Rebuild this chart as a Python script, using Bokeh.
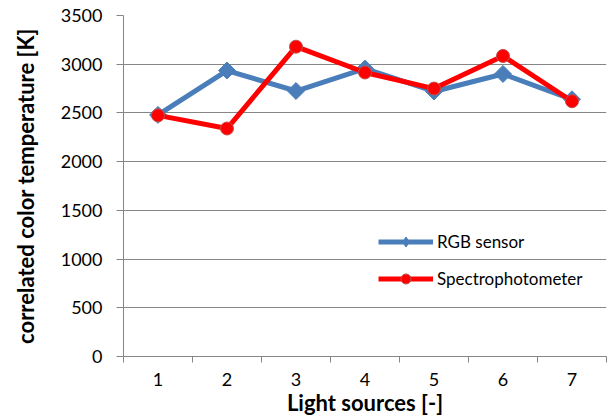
import numpy as np
from bokeh.plotting import figure
from bokeh.models import FixedTicker, Range1d, Legend, LegendItem
from bokeh.embed import file_html
from bokeh.resources import INLINE

sources = [1, 2, 3, 4, 5, 6, 7]
rgb_sensor = [2480, 2935, 2725, 2955, 2720, 2900, 2640]
spectrophotometer = [2475, 2340, 3180, 2915, 2750, 3085, 2620]
y_ticks = [0, 500, 1000, 1500, 2000, 2500, 3000, 3500]

FONT = "Lato"
GRID = "#868686"

p = figure(width=614, height=418, output_backend="svg", toolbar_location=None,
           x_range=Range1d(0.5, 7.5), y_range=Range1d(0, 3500),
           min_border_left=123, min_border_right=8, min_border_top=15, min_border_bottom=61)
p.outline_line_color = None
p.background_fill_color = "white"
p.border_fill_color = "white"

p.xgrid.grid_line_color = None
p.ygrid.grid_line_color = GRID
p.ygrid.grid_line_width = 1

xt = FixedTicker(ticks=sources, minor_ticks=[i + 0.5 for i in range(0, 8)])
p.xaxis.ticker = xt
p.xaxis.major_tick_line_color = None
p.xaxis.minor_tick_out = 6
p.xaxis.minor_tick_in = 0
p.xaxis.minor_tick_line_color = GRID
p.xaxis.axis_line_color = GRID
p.xaxis.major_label_standoff = 10
p.xaxis.axis_label = "Light sources [-]"
p.xaxis.axis_label_standoff = 0

p.yaxis.ticker = FixedTicker(ticks=y_ticks, minor_ticks=[])
p.yaxis.major_tick_out = 7
p.yaxis.major_tick_in = 0
p.yaxis.major_tick_line_color = GRID
p.yaxis.axis_line_color = GRID
p.yaxis.major_label_standoff = 14
p.yaxis.axis_label = "correlated color temperature [K]"
p.yaxis.axis_label_standoff = 19

for ax in (p.xaxis[0], p.yaxis[0]):
    ax.major_label_text_font = FONT
    ax.major_label_text_font_size = "18px"
    ax.major_label_text_color = "#000000"
    ax.axis_label_text_font = FONT
    ax.axis_label_text_font_size = "22px"
    ax.axis_label_text_font_style = "bold"
    ax.axis_label_text_color = "#000000"
    ax.axis_line_width = 1

blue = "#4A7EBB"
red = "#FF0000"

l1 = p.line(sources, rgb_sensor, line_color=blue, line_width=5)
m1 = p.scatter(sources, rgb_sensor, marker="square", angle=np.pi / 4, size=12,
               fill_color=blue, line_color=blue)
# zero-size diamond overlay: invisible in the plot, gives a diamond key in the legend
k1 = p.scatter(sources, rgb_sensor, marker="diamond", size=0,
               fill_color=blue, line_color=blue)
l2 = p.line(sources, spectrophotometer, line_color=red, line_width=5)
m2 = p.scatter(sources, spectrophotometer, marker="circle", size=13,
               fill_color=red, line_color="#C0504D", line_width=1)

legend = Legend(items=[LegendItem(label="RGB sensor", renderers=[l1, k1]),
                       LegendItem(label="Spectrophotometer", renderers=[l2, m2])],
                location=(255, 65), orientation="vertical")
legend.glyph_width = 55
legend.glyph_height = 25
legend.spacing = 12
legend.label_standoff = 4
legend.padding = 0
legend.margin = 0
legend.border_line_color = None
legend.background_fill_alpha = 0
legend.label_text_font = FONT
legend.label_text_font_size = "17px"
legend.label_text_color = "#000000"
p.add_layout(legend, "center")

open("out.html", "w").write(file_html(p, INLINE))
